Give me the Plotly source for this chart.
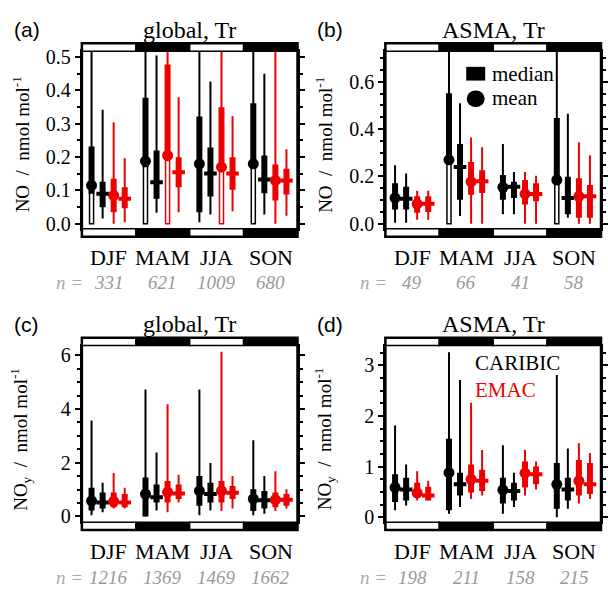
import plotly.graph_objects as go

W, H = 608, 598

seasons = ["DJF", "MAM", "JJA", "SON"]
item_offsets = [-0.32, -0.115, 0.09, 0.295]

# ---------------- panel (a): global NO ----------------
n_a = [331, 621, 1009, 680]
a_car_mean = dict(val=[0.115, 0.188, 0.18, 0.18],
                  box_lo=[0.09, 0.17, 0.035, 0.165], box_hi=[0.232, 0.378, 0.322, 0.362],
                  wh_lo=[0.0, 0.0, 0.005, 0.0], wh_hi=[0.6, 0.6, 0.6, 0.6],
                  open_lo=[0.0, 0.0, None, 0.0], open_hi=[0.11, 0.18, None, 0.17])
a_car_median = dict(val=[0.09, 0.125, 0.151, 0.133],
                    box_lo=[0.05, 0.075, 0.082, 0.092], box_hi=[0.126, 0.22, 0.229, 0.205],
                    wh_lo=[0.016, 0.033, 0.028, 0.028], wh_hi=[0.342, 0.505, 0.427, 0.45])
a_emac_mean = dict(val=[0.085, 0.205, 0.17, 0.13],
                   box_lo=[0.035, 0.19, 0.165, 0.07], box_hi=[0.135, 0.478, 0.35, 0.178],
                   wh_lo=[0.0, 0.0, 0.0, 0.0], wh_hi=[0.305, 0.6, 0.6, 0.6],
                   open_lo=[None, 0.0, 0.0, None], open_hi=[None, 0.19, 0.165, None])
a_emac_median = dict(val=[0.075, 0.155, 0.151, 0.13],
                     box_lo=[0.047, 0.11, 0.102, 0.088], box_hi=[0.11, 0.2, 0.2, 0.165],
                     wh_lo=[0.005, 0.035, 0.038, 0.024], wh_hi=[0.197, 0.38, 0.323, 0.224])

# ---------------- panel (b): ASMA NO ----------------
n_b = [49, 66, 41, 58]
b_car_mean = dict(val=[0.109, 0.27, 0.154, 0.185],
                  box_lo=[0.061, 0.275, 0.102, 0.178], box_hi=[0.171, 0.551, 0.206, 0.447],
                  wh_lo=[0.005, 0.0, 0.04, 0.0], wh_hi=[0.247, 0.9, 0.337, 0.9],
                  open_lo=[None, 0.0, None, 0.0], open_hi=[None, 0.26, None, 0.175])
b_car_median = dict(val=[0.106, 0.24, 0.157, 0.109],
                    box_lo=[0.061, 0.102, 0.109, 0.04], box_hi=[0.157, 0.337, 0.178, 0.199],
                    wh_lo=[0.005, 0.033, 0.04, 0.026], wh_hi=[0.212, 0.509, 0.219, 0.465])
b_emac_mean = dict(val=[0.084, 0.178, 0.126, 0.116],
                   box_lo=[0.047, 0.123, 0.082, 0.026], box_hi=[0.116, 0.261, 0.185, 0.192],
                   wh_lo=[0.017, 0.0, 0.0, 0.0], wh_hi=[0.14, 0.364, 0.219, 0.344])
b_emac_median = dict(val=[0.085, 0.18, 0.126, 0.116],
                     box_lo=[0.05, 0.13, 0.095, 0.026], box_hi=[0.116, 0.226, 0.171, 0.164],
                     wh_lo=[0.017, 0.0, 0.0, 0.0], wh_hi=[0.14, 0.323, 0.203, 0.289])

# ---------------- panel (c): global NOy ----------------
n_c = [1216, 1369, 1469, 1662]
c_car_mean = dict(val=[0.58, 0.83, 0.95, 0.65],
                  box_lo=[0.22, 0.0, 0.4, 0.2], box_hi=[1.07, 1.45, 1.5, 1.01],
                  wh_lo=[0.04, 0.0, 0.04, 0.04], wh_hi=[3.57, 4.73, 4.73, 2.84])
c_car_median = dict(val=[0.52, 0.71, 0.83, 0.6],
                    box_lo=[0.29, 0.52, 0.52, 0.29], box_hi=[0.89, 1.19, 1.25, 0.95],
                    wh_lo=[0.15, 0.22, 0.22, 0.1], wh_hi=[1.25, 2.38, 1.99, 1.5])
c_emac_mean = dict(val=[0.56, 0.9, 0.95, 0.62],
                   box_lo=[0.34, 0.52, 0.52, 0.34], box_hi=[0.89, 1.32, 1.32, 0.89],
                   wh_lo=[0.29, 0.15, 0.2, 0.2], wh_hi=[1.62, 4.18, 6.13, 1.68])
c_emac_median = dict(val=[0.52, 0.85, 0.88, 0.62],
                     box_lo=[0.34, 0.65, 0.65, 0.4], box_hi=[0.83, 1.19, 1.13, 0.83],
                     wh_lo=[0.29, 0.52, 0.29, 0.29], wh_hi=[1.07, 1.55, 1.5, 1.01])

# ---------------- panel (d): ASMA NOy ----------------
n_d = [198, 211, 158, 215]
d_car_mean = dict(val=[0.59, 0.88, 0.54, 0.65],
                  box_lo=[0.3, 0.14, 0.27, 0.17], box_hi=[0.85, 1.55, 0.78, 1.07],
                  wh_lo=[0.14, 0.07, 0.07, 0.0], wh_hi=[1.81, 3.26, 1.42, 2.81])
d_car_median = dict(val=[0.55, 0.65, 0.52, 0.55],
                    box_lo=[0.33, 0.43, 0.33, 0.33], box_hi=[0.78, 0.88, 0.68, 0.78],
                    wh_lo=[0.23, 0.2, 0.2, 0.17], wh_hi=[1.04, 2.71, 0.88, 1.36])
d_emac_mean = dict(val=[0.48, 0.75, 0.87, 0.72],
                   box_lo=[0.38, 0.49, 0.59, 0.43], box_hi=[0.68, 1.04, 1.1, 1.13],
                   wh_lo=[0.33, 0.36, 0.43, 0.27], wh_hi=[0.91, 2.26, 1.33, 1.46])
d_emac_median = dict(val=[0.43, 0.72, 0.85, 0.65],
                     box_lo=[0.33, 0.52, 0.65, 0.46], box_hi=[0.6, 0.94, 1.0, 1.07],
                     wh_lo=[0.33, 0.43, 0.55, 0.36], wh_hi=[0.72, 1.33, 1.1, 1.27])

BLACK = "#000000"
RED = "#ee0000"
SERIF = "Liberation Serif"
SANS = "Liberation Sans"


def px(x):
    return x / W


def py(y):
    return 1 - y / H


panels = [
    dict(label="(a)", title="global, Tr", ytitle="NO  /  nmol mol<sup>-1</sup>", n=n_a,
         items=[a_car_mean, a_car_median, a_emac_mean, a_emac_median],
         xdom=[px(82), px(298)], ydom=[py(228), py(47)], yr=[-0.015, 0.518],
         dtick=0.1, minor=0.05, fmt=".1f", x0=0, y0=0),
    dict(label="(b)", title="ASMA, Tr", ytitle="NO  /  nmol mol<sup>-1</sup>", n=n_b,
         items=[b_car_mean, b_car_median, b_emac_mean, b_emac_median],
         xdom=[px(386), px(602)], ydom=[py(228), py(47)], yr=[-0.021, 0.729],
         dtick=0.2, minor=0.05, fmt=".1f", x0=304, y0=0),
    dict(label="(c)", title="global, Tr", ytitle="NO<sub>y</sub>  /  nmol mol<sup>-1</sup>", n=n_c,
         items=[c_car_mean, c_car_median, c_emac_mean, c_emac_median],
         xdom=[px(82), px(298)], ydom=[py(527), py(347)], yr=[-0.22, 6.36],
         dtick=2, minor=0.5, fmt="d", x0=0, y0=300),
    dict(label="(d)", title="ASMA, Tr", ytitle="NO<sub>y</sub>  /  nmol mol<sup>-1</sup>", n=n_d,
         items=[d_car_mean, d_car_median, d_emac_mean, d_emac_median],
         xdom=[px(386), px(602)], ydom=[py(527), py(347)], yr=[-0.1, 3.39],
         dtick=1, minor=0.25, fmt="d", x0=304, y0=300),
]

item_colors = [BLACK, BLACK, RED, RED]
item_kind = ["mean", "median", "mean", "median"]

fig = go.Figure()
shapes = []
annotations = []
layout_axes = {}
STRIPE = 8 / 181

for p_i, p in enumerate(panels):
    k = "" if p_i == 0 else str(p_i + 1)
    xa, ya = "x" + k, "y" + k
    layout_axes["xaxis" + k] = dict(domain=p["xdom"], anchor=ya, range=[-0.5, 3.5],
                                    showticklabels=False, ticks="", showgrid=False,
                                    zeroline=False, showline=True, linecolor=BLACK,
                                    linewidth=2, mirror=True, fixedrange=True)
    layout_axes["yaxis" + k] = dict(domain=p["ydom"], anchor=xa, range=p["yr"],
                                    tick0=0, dtick=p["dtick"], tickformat=p["fmt"],
                                    ticks="outside", ticklen=5, tickwidth=1.5,
                                    tickcolor=BLACK, showgrid=False, zeroline=False,
                                    showline=True, linecolor=BLACK, linewidth=2,
                                    mirror="ticks",
                                    tickfont=dict(family=SERIF, size=20, color=BLACK),
                                    minor=dict(ticks="outside", ticklen=3, dtick=p["minor"],
                                               tickcolor=BLACK, showgrid=False),
                                    fixedrange=True)

    for it, off, col, kind in zip(p["items"], item_offsets, item_colors, item_kind):
        xs = [s + off for s in range(len(seasons))]
        # open rectangles (lower bound below zero)
        if "open_lo" in it:
            for x, lo, hi in zip(xs, it["open_lo"], it["open_hi"]):
                if lo is None:
                    continue
                fig.add_trace(go.Bar(x=[x], y=[hi - lo], base=[lo], width=0.075,
                                     marker=dict(color="white", line=dict(color=col, width=1.5)),
                                     xaxis=xa, yaxis=ya, showlegend=False, hoverinfo="skip"))
        # whiskers
        wx, wy = [], []
        for s, x in enumerate(xs):
            lo = it["wh_lo"][s]
            if "open_hi" in it and it["open_hi"][s] is not None:
                lo = max(lo, it["open_hi"][s])
            wx += [x, x, None]
            wy += [lo, it["wh_hi"][s], None]
        fig.add_trace(go.Scatter(x=wx, y=wy, mode="lines", line=dict(color=col, width=2),
                                 xaxis=xa, yaxis=ya, showlegend=False, hoverinfo="skip"))
        # boxes
        bx, by = [], []
        for s, x in enumerate(xs):
            bx += [x, x, None]
            by += [it["box_lo"][s], it["box_hi"][s], None]
        fig.add_trace(go.Scatter(x=bx, y=by, mode="lines", line=dict(color=col, width=6),
                                 xaxis=xa, yaxis=ya, showlegend=False, hoverinfo="skip"))
        # central markers
        if kind == "mean":
            mk = dict(symbol="circle", size=11, color=col)
        else:
            mk = dict(symbol="line-ew", size=9, line=dict(color=col, width=4))
        fig.add_trace(go.Scatter(x=xs, y=it["val"], mode="markers", marker=mk,
                                 xaxis=xa, yaxis=ya, showlegend=False, hoverinfo="skip"))

    # season stripes and frame
    for s in range(len(seasons)):
        fillc = BLACK if s % 2 == 1 else "white"
        for y0s, y1s in [(1, 1 + STRIPE), (-STRIPE, 0)]:
            shapes.append(dict(type="rect", xref=xa, yref=ya + " domain",
                               x0=s - 0.5, x1=s + 0.5, y0=y0s, y1=y1s,
                               fillcolor=fillc, line=dict(color=BLACK, width=1.5),
                               layer="above"))
    shapes.append(dict(type="rect", xref=xa + " domain", yref=ya + " domain",
                       x0=0, x1=1, y0=-STRIPE, y1=1 + STRIPE,
                       line=dict(color=BLACK, width=2.5), layer="above"))

    X0, Y0 = p["x0"], p["y0"]
    # panel label & title
    annotations.append(dict(text=p["label"], xref="paper", yref="paper",
                            x=px(X0 + 27), y=py(Y0 + 25), showarrow=False,
                            xanchor="center", yanchor="middle",
                            font=dict(family=SANS, size=21, color=BLACK)))
    annotations.append(dict(text=p["title"], xref="paper", yref="paper",
                            x=(p["xdom"][0] + p["xdom"][1]) / 2, y=py(Y0 + 25),
                            showarrow=False, xanchor="center", yanchor="middle",
                            font=dict(family=SERIF, size=24, color=BLACK)))
    # y title
    annotations.append(dict(text=p["ytitle"], xref="paper", yref="paper",
                            x=px(X0 + 21), y=py(Y0 + 142), showarrow=False,
                            textangle=-90, xanchor="center", yanchor="middle",
                            font=dict(family=SERIF, size=19, color=BLACK)))
    # season labels & counts
    for s, name in enumerate(seasons):
        annotations.append(dict(text=name, xref=xa, yref="paper", x=s, y=py(Y0 + 257),
                                showarrow=False, xanchor="center", yanchor="middle",
                                font=dict(family=SERIF, size=22, color=BLACK)))
        annotations.append(dict(text=str(p["n"][s]), xref=xa, yref="paper",
                                x=s, y=py(Y0 + 283), showarrow=False,
                                xanchor="center", yanchor="middle",
                                font=dict(family=SERIF, size=19, color="#999999",
                                          style="italic")))
    annotations.append(dict(text="n =", xref="paper", yref="paper",
                            x=px(X0 + 70), y=py(Y0 + 283), showarrow=False,
                            xanchor="center", yanchor="middle",
                            font=dict(family=SERIF, size=19, color="#aaaaaa",
                                      style="italic")))

# legend in (b)
shapes.append(dict(type="rect", xref="paper", yref="paper", x0=px(467), x1=px(486),
                   y0=py(77), y1=py(63), fillcolor=BLACK, line=dict(width=0)))
shapes.append(dict(type="circle", xref="paper", yref="paper", x0=px(467.5), x1=px(485.5),
                   y0=py(104), y1=py(87), fillcolor=BLACK, line=dict(width=0)))
annotations.append(dict(text="median", xref="paper", yref="paper", x=px(491), y=py(70),
                        showarrow=False, xanchor="left", yanchor="middle",
                        font=dict(family=SERIF, size=21, color=BLACK)))
annotations.append(dict(text="mean", xref="paper", yref="paper", x=px(491), y=py(95),
                        showarrow=False, xanchor="left", yanchor="middle",
                        font=dict(family=SERIF, size=21, color=BLACK)))
# legend in (d)
annotations.append(dict(text="CARIBIC", xref="paper", yref="paper", x=px(474), y=py(365),
                        showarrow=False, xanchor="left", yanchor="middle",
                        font=dict(family=SERIF, size=21, color=BLACK)))
annotations.append(dict(text="EMAC", xref="paper", yref="paper", x=px(474), y=py(392),
                        showarrow=False, xanchor="left", yanchor="middle",
                        font=dict(family=SERIF, size=21, color=RED)))

fig.update_layout(width=W, height=H, margin=dict(l=0, r=0, t=0, b=0),
                  paper_bgcolor="white", plot_bgcolor="white", barmode="overlay",
                  showlegend=False, shapes=shapes, annotations=annotations, **layout_axes)

fig.write_html("out.html")
